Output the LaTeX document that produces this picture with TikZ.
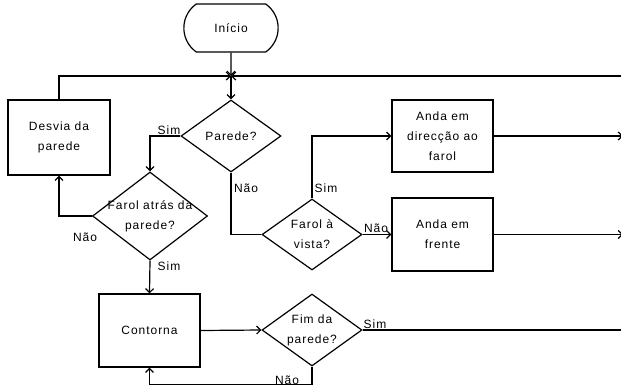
\documentclass[tikz,border=0pt]{standalone}
\usepackage{fontspec}
\setmainfont[LetterSpace=8]{Liberation Sans}
\usetikzlibrary{shapes.geometric,shapes.misc,arrows.meta}
\tikzset{
    proc-box/.style = {draw, rectangle, minimum width=101pt, minimum height=73pt, align=center, inner sep=2pt},
    decision/.style = {draw, diamond, minimum width=100pt, minimum height=72pt, inner sep=0pt},
    decision-text/.style = {align=center, inner sep=0pt},
    start-end/.style = {draw, rounded rectangle, rounded rectangle arc length=110, minimum width=101pt, minimum height=48pt},
    flow-label/.style = {inner sep=0pt},
    flow/.style = {-{Straight Barb[length=4pt,width=8pt]}},
}

\begin{document}
\begin{tikzpicture}[x=1pt, y=-1pt, line width=1.2pt, font=\fontsize{12}{20}\selectfont]
\useasboundingbox (0,0) rectangle (621,386);

% blocos
\node[start-end] (inicio) at (231,28) {Início};
\coordinate (junta) at (231,76);
\coordinate (volta) at (630,76);
\node[decision] (parede) at (231,136) {};
\node[decision-text] at (parede) {Parede?};
\node[proc-box, minimum width=102pt, minimum height=75pt] (desvia) at (59,137.5) {Desvia da\\parede};
\node[decision, minimum width=115pt, minimum height=88pt] (farolatras) at (150,216) {};
\node[decision-text] at (farolatras) {Farol atrás da\\parede?};
\node[decision, minimum height=71pt] (farolvista) at (312,234.5) {};
\node[decision-text] at (farolvista) {Farol à\\vista?};
\node[proc-box, minimum height=72pt] (andadir) at (442.5,136) {Anda em\\direcção ao\\farol};
\node[proc-box] (andafrente) at (442.5,234.5) {Anda em\\frente};
\node[proc-box] (contorna) at (149.5,330.5) {Contorna};
\node[decision] (fim) at (312,330) {};
\node[decision-text] at (fim) {Fim da\\parede?};
\coordinate (saida1) at (623,136);
\coordinate (saida2) at (623,234.5);
\coordinate (saida3) at (630,330);

% ligacoes
\draw[flow] (inicio) -- (junta);
\draw[flow] (junta) -- (parede.north);
\draw[flow] (desvia.north) |- (junta);
\draw[flow] (volta) -- (junta);
\draw[flow] (parede.west) -| (farolatras.north);
\draw (parede.south) |- (farolvista.west);
\draw[flow] (farolatras.west) -| (desvia.south);
\draw[flow] (farolatras.south) -- (contorna.north);
\draw[flow] (farolvista.north) |- (andadir.west);
\draw[flow] (farolvista.east) -- (andafrente.west);
\draw[flow] (andadir.east) -- (saida1);
\draw[flow] (andafrente.east) -- (saida2);
\draw[flow] (contorna.east) -- (fim.west);
\draw (fim.east) -- (saida3);
\draw[flow] (fim.south) -- ++(0,18) -| (contorna.south);

% rotulos
\node[flow-label] (sim1) at (169,130) {Sim};
\node[flow-label] (nao1) at (246,188) {Não};
\node[flow-label] (sim2) at (326,188) {Sim};
\node[flow-label] (nao2) at (376,228) {Não};
\node[flow-label] (nao3) at (85,237) {Não};
\node[flow-label] (sim3) at (169,266) {Sim};
\node[flow-label] (sim4) at (375,324) {Sim};
\node[flow-label] (nao4) at (287,380) {Não};
\end{tikzpicture}
\end{document}
